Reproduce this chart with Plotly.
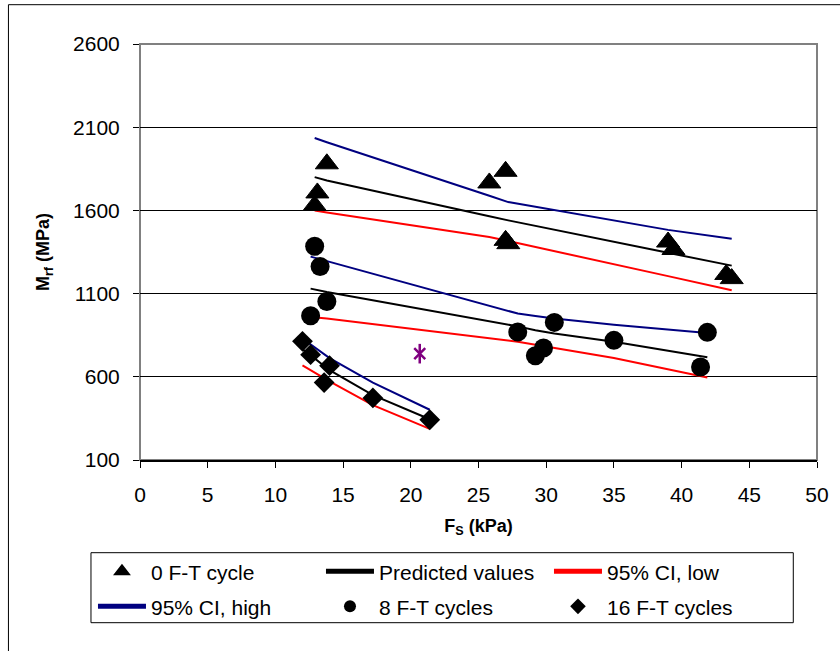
import plotly.graph_objects as go

# ---------------- data ----------------
x_ticks = [0, 5, 10, 15, 20, 25, 30, 35, 40, 45, 50]
y_ticks = [100, 600, 1100, 1600, 2100, 2600]

# 0 F-T cycle measured
x_ft0 = [12.9, 13.1, 13.8, 25.8, 27.0, 27.0, 27.2, 39.0, 39.4, 43.3, 43.7]
y_ft0 = [1630, 1705, 1880, 1765, 1835, 1420, 1400, 1410, 1365, 1215, 1190]
# 8 F-T cycles measured
x_ft8 = [12.6, 12.9, 13.3, 13.8, 27.9, 29.2, 29.8, 30.6, 35.0, 41.4, 41.9]
y_ft8 = [967, 1384, 1263, 1053, 869, 727, 773, 927, 819, 659, 867]
# 16 F-T cycles measured
x_ft16 = [12.0, 12.6, 13.6, 14.0, 17.2, 21.4]
y_ft16 = [813, 733, 565, 667, 473, 342]

# model curves (predicted, 95% CI low / high) per F-T group
fit_x0 = [12.9, 13.8, 25.8, 27.2, 39.0, 43.7]
pred0 = [1800, 1780, 1565, 1540, 1345, 1268]
low0 = [1600, 1588, 1440, 1416, 1205, 1120]
high0 = [2035, 2010, 1688, 1650, 1483, 1430]

fit_x8 = [12.6, 13.8, 27.9, 29.2, 30.6, 35.0, 41.9]
pred8 = [1130, 1110, 903, 880, 860, 810, 718]
low8 = [960, 950, 811, 793, 775, 713, 596]
high8 = [1322, 1295, 980, 965, 950, 913, 863]

fit_x16 = [12.0, 12.6, 13.6, 14.0, 17.2, 21.4]
pred16 = [765, 730, 665, 640, 490, 345]
low16 = [668, 640, 590, 572, 430, 287]
high16 = [830, 795, 735, 712, 565, 402]

# isolated point
x_odd = [20.66]
y_odd = [739]


def joined(*parts):
    out = []
    for i, p in enumerate(parts):
        if i:
            out.append(None)
        out.extend(p)
    return out


fit_x_all = joined(fit_x0, fit_x8, fit_x16)
pred_all = joined(pred0, pred8, pred16)
low_all = joined(low0, low8, low16)
high_all = joined(high0, high8, high16)

fig = go.Figure()

fig.add_trace(go.Scatter(x=fit_x_all, y=pred_all, mode="lines", name="Predicted values",
                         line=dict(color="black", width=2), legend="legend", legendrank=2))
fig.add_trace(go.Scatter(x=fit_x_all, y=low_all, mode="lines", name="95% CI, low",
                         line=dict(color="#FF0000", width=2), legend="legend", legendrank=3))
fig.add_trace(go.Scatter(x=fit_x_all, y=high_all, mode="lines", name="95% CI, high",
                         line=dict(color="#000080", width=2), legend="legend2", legendrank=4))

fig.add_trace(go.Scatter(x=x_ft0, y=y_ft0, mode="markers", name="0 F-T cycle",
                         marker=dict(symbol="triangle-up", size=20, color="black",
                                     line=dict(color="black", width=1)),
                         legend="legend", legendrank=1))
fig.add_trace(go.Scatter(x=x_ft8, y=y_ft8, mode="markers", name="8 F-T cycles",
                         marker=dict(symbol="circle", size=19, color="black"),
                         legend="legend2", legendrank=5))
fig.add_trace(go.Scatter(x=x_ft16, y=y_ft16, mode="markers", name="16 F-T cycles",
                         marker=dict(symbol="diamond", size=16, color="black"),
                         legend="legend2", legendrank=6))
fig.add_trace(go.Scatter(x=x_odd, y=y_odd, mode="markers", showlegend=False,
                         marker=dict(symbol="x-thin-open", size=11, color="#800080",
                                     line=dict(color="#800080", width=2.5))))
fig.add_trace(go.Scatter(x=x_odd, y=y_odd, mode="markers", showlegend=False,
                         marker=dict(symbol="line-ns-open", size=14, color="#800080",
                                     line=dict(color="#800080", width=2.5))))

# pixel helpers for layout placement
L, R, T, B = 140.0, 816.7, 44.3, 460.3
PW, PH = R - L, B - T


def px_x(p):
    return (p - L) / PW


def px_y(p):
    return (B - p) / PH


font_family = "Liberation Sans, Arial, sans-serif"

fig.update_layout(
    width=840, height=651,
    margin=dict(l=L, r=840 - R, t=T, b=651 - B, autoexpand=False),
    paper_bgcolor="white", plot_bgcolor="white",
    font=dict(family=font_family, size=21, color="black"),
    xaxis=dict(range=[0, 50], tickmode="array", tickvals=x_ticks,
               ticktext=[str(v) for v in x_ticks],
               showgrid=False, zeroline=False, ticks="outside", ticklen=6,
               tickcolor="black", tickwidth=1, showline=True, linecolor="black",
               linewidth=1.5, ticklabelstandoff=9, tickfont=dict(size=21),
               title=dict(text="<b>F<sub>S</sub> (kPa)</b>", font=dict(size=18), standoff=14)),
    yaxis=dict(range=[100, 2600], tickmode="array", tickvals=y_ticks,
               ticktext=[str(v) for v in y_ticks],
               showgrid=True, gridcolor="black", gridwidth=1, zeroline=False,
               ticks="outside", ticklen=6, tickcolor="black", tickwidth=1,
               showline=False, ticklabelstandoff=9, tickfont=dict(size=21),
               title=dict(text="<b>M<sub>rf</sub> (MPa)</b>", font=dict(size=18), standoff=18)),
    legend=dict(orientation="h", x=px_x(93), y=px_y(572), xanchor="left", yanchor="middle",
                itemwidth=48, entrywidth=165, entrywidthmode="pixels",
                itemsizing="constant", bgcolor="rgba(0,0,0,0)", borderwidth=0,
                font=dict(size=21, family=font_family), traceorder="normal"),
    legend2=dict(orientation="h", x=px_x(93), y=px_y(607), xanchor="left", yanchor="middle",
                 itemwidth=48, entrywidth=165, entrywidthmode="pixels",
                 itemsizing="constant", bgcolor="rgba(0,0,0,0)", borderwidth=0,
                 font=dict(size=21, family=font_family), traceorder="normal"),
    shapes=[
        # plot area border
        dict(type="rect", xref="paper", yref="paper", x0=0, x1=1, y0=0, y1=1,
             line=dict(color="#808080", width=2), layer="between"),
        # legend box
        dict(type="rect", xref="paper", yref="paper", x0=px_x(91), x1=px_x(793),
             y0=px_y(623), y1=px_y(553), line=dict(color="black", width=1)),
        # chart outer frame
        dict(type="rect", xref="paper", yref="paper", x0=px_x(8.5), x1=px_x(850),
             y0=px_y(660), y1=px_y(5), line=dict(color="black", width=1), layer="below"),
    ],
    showlegend=True,
)

fig.write_html("out.html", config={"displayModeBar": False},
               post_script="document.body.style.margin='0px';")
